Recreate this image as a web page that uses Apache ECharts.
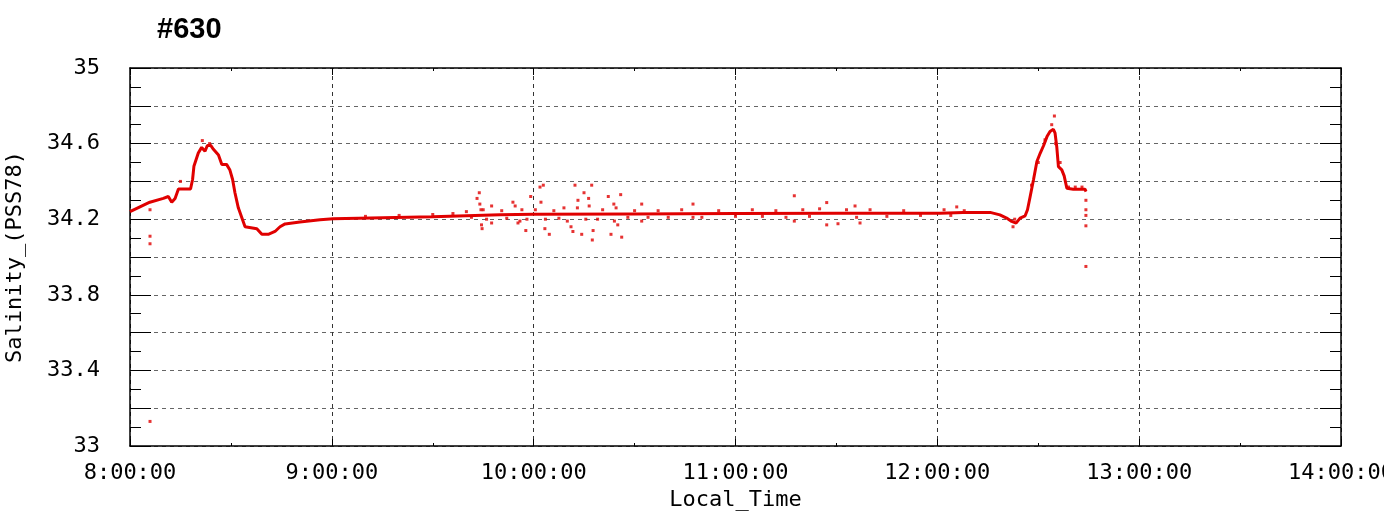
<!DOCTYPE html>
<html>
<head>
<meta charset="utf-8">
<script src="https://cdn.jsdelivr.net/npm/echarts@6/dist/echarts.min.js"></script>
<style>html,body{margin:0;padding:0;background:#fff}#c{width:1384px;height:513px}</style>
</head>
<body>
<div id="c"></div>
<script>
// ---- data ----
const chartTitle = '#630';
const xTickLabels = ['8:00:00','9:00:00','10:00:00','11:00:00','12:00:00','13:00:00','14:00:00'];
const yTickLabels = ['33','33.4','33.8','34.2','34.6','35'];

// main trace
const traceTimes = ['8:00:00','8:05:54','8:09:54','8:11:24','8:12:24','8:13:24','8:14:24','8:18:00','8:18:36','8:19:00',
  '8:20:18','8:21:18','8:22:18','8:23:00','8:24:00','8:24:48','8:26:18','8:27:18','8:28:42','8:29:42',
  '8:30:30','8:31:12','8:32:12','8:33:12','8:34:12','8:37:42','8:39:12','8:41:06','8:43:06','8:44:36',
  '8:46:06','8:50:30','8:56:30','9:00:24','9:30:00','9:50:00','10:00:00','10:30:00','11:00:00','11:30:00',
  '12:00:48','12:07:42','12:15:42','12:18:36','12:20:36','12:22:06','12:23:24','12:24:36','12:26:06','12:26:48',
  '12:27:36','12:28:36','12:29:36','12:30:36','12:31:36','12:32:36','12:33:30','12:34:30','12:35:00','12:35:30',
  '12:36:00','12:37:00','12:37:42','12:38:30','12:40:24','12:43:54','12:44:12'];
const traceSalinity = [34.24,34.29,34.31,34.32,34.29,34.31,34.36,34.36,34.41,34.48,
  34.55,34.58,34.56,34.59,34.59,34.57,34.54,34.49,34.49,34.46,
  34.41,34.34,34.26,34.21,34.16,34.15,34.12,34.12,34.135,34.16,
  34.175,34.185,34.197,34.202,34.213,34.223,34.226,34.228,34.23,34.232,
  34.232,34.236,34.236,34.223,34.206,34.188,34.179,34.206,34.218,34.25,
  34.32,34.41,34.505,34.55,34.59,34.637,34.664,34.676,34.655,34.584,
  34.478,34.461,34.429,34.364,34.359,34.359,34.346];

// scattered samples off the main trace
const dotTimes = ['8:05:57','8:05:57','8:05:57','8:05:57','8:15:00','8:21:30','8:23:40',
  '9:10:00','9:20:00','9:30:00','9:36:00',
  '9:40:00','9:41:30','9:43:10','9:43:50','9:44:00','9:44:20','9:44:30','9:44:40','9:45:00','9:46:00','9:47:30','9:47:30',
  '9:50:30','9:52:00','9:53:50','9:54:30','9:55:20','9:55:55','9:56:30','9:57:40','9:58:00','9:59:07',
  '10:00:30','10:01:53','10:02:10','10:02:52','10:03:30','10:03:20','10:04:39','10:06:00','10:07:30','10:09:00','10:10:00',
  '10:11:06','10:11:40','10:12:17','10:13:00','10:13:10','10:14:17','10:14:58','10:15:30','10:16:20','10:16:30','10:17:15','10:17:26','10:17:40','10:19:00',
  '10:20:30','10:22:11','10:22:59','10:23:50','10:24:00','10:24:30','10:25:00','10:25:52','10:26:10','10:28:00',
  '10:30:00','10:32:07','10:32:07','10:34:00','10:37:00','10:40:00','10:44:00','10:47:22','10:47:22','10:50:00','10:55:00',
  '11:00:00','11:05:00','11:08:00','11:12:00','11:15:00','11:17:29','11:17:29','11:20:00','11:22:00','11:25:00','11:27:07','11:27:07',
  '11:30:28','11:33:00','11:35:32','11:36:00','11:37:01','11:40:00','11:45:00','11:50:00','11:55:00',
  '12:02:00','12:04:00','12:05:46','12:08:00',
  '12:22:30','12:23:00','12:28:00','12:30:00','12:32:00','12:34:00','12:34:48','12:35:10','12:36:30','12:39:00','12:41:00','12:43:00',
  '12:44:10','12:44:10','12:44:10','12:44:10','12:44:10'];
const dotSalinity = [34.25,34.11,34.07,33.13,34.40,34.616,34.60,
  34.215,34.22,34.225,34.23,
  34.24,34.21,34.31,34.34,34.28,34.25,34.17,34.15,34.25,34.20,34.27,34.18,
  34.245,34.205,34.29,34.27,34.18,34.19,34.25,34.14,34.20,34.32,
  34.25,34.37,34.29,34.38,34.20,34.15,34.12,34.245,34.205,34.26,34.19,
  34.16,34.135,34.38,34.26,34.30,34.12,34.34,34.20,34.31,34.27,34.38,34.09,34.14,34.20,
  34.25,34.32,34.12,34.28,34.19,34.26,34.17,34.33,34.105,34.21,
  34.245,34.28,34.19,34.21,34.245,34.21,34.25,34.28,34.21,34.21,34.245,
  34.215,34.25,34.215,34.245,34.21,34.324,34.19,34.25,34.215,34.255,34.288,34.17,
  34.176,34.25,34.27,34.21,34.18,34.25,34.215,34.245,34.22,
  34.25,34.22,34.265,34.245,
  34.16,34.20,34.38,34.50,34.62,34.70,34.746,34.60,34.50,34.37,34.37,34.37,
  34.30,34.25,34.22,34.165,33.95];

// ---- helpers ----
function toSec(t){const p=t.split(':').map(Number);return p[0]*3600+p[1]*60+p[2];}
const traceData = traceTimes.map((t,i)=>[toSec(t), traceSalinity[i]]);
const dotData = dotTimes.map((t,i)=>[toSec(t), dotSalinity[i]]);

const mono = '"DejaVu Sans Mono", "Liberation Mono", monospace';
const red = '#e00000';

function xFmt(v){const h=Math.round(v/3600);const s=h+':00:00';return xTickLabels.indexOf(s)>=0?s:'';}
function yFmt(v){const s=String(Number(v.toFixed(1)));return yTickLabels.indexOf(s)>=0?s:'';}

const xBase = {
  type:'value', min:28800, max:50400, interval:3600,
  axisLine:{show:true, lineStyle:{color:'#000', width:1.5}},
  axisTick:{show:true, inside:true, length:7, lineStyle:{color:'#000', width:1}},
  minorTick:{show:true, splitNumber:2, length:3, lineStyle:{color:'#000', width:1}},
  splitLine:{show:false}
};
const yBase = {
  type:'value', min:33, max:35, interval:0.2,
  axisLine:{show:true, lineStyle:{color:'#000', width:1.5}},
  axisTick:{show:true, inside:true, length:21, lineStyle:{color:'#000', width:1}},
  minorTick:{show:true, splitNumber:2, length:11, lineStyle:{color:'#000', width:1}},
  splitLine:{show:false}
};

const chart = echarts.init(document.getElementById('c'), null, {renderer:'canvas'});
chart.setOption({
  animation:false,
  backgroundColor:'#fff',
  title:{text:chartTitle, left:152, top:10,
    textStyle:{fontFamily:'"Liberation Sans", Arial, sans-serif', fontWeight:'bold', fontSize:29, color:'#000'}},
  grid:{left:130, right:43, top:68, bottom:67, containLabel:false, outerBoundsMode:'none'},
  xAxis:[
    Object.assign({}, xBase, {position:'bottom',
      name:'Local_Time', nameLocation:'middle', nameGap:38,
      nameTextStyle:{fontFamily:mono, fontSize:22, color:'#000'},
      axisLabel:{show:true, margin:16, formatter:xFmt, fontFamily:mono, fontSize:22, color:'#000'},
      splitLine:{show:true, lineStyle:{color:'#333', type:[4,4], width:1}}}),
    Object.assign({}, xBase, {position:'top', axisLabel:{show:false}})
  ],
  yAxis:[
    Object.assign({}, yBase, {position:'left',
      name:'Salinity_(PSS78)', nameLocation:'middle', nameGap:104, nameRotate:90,
      nameTextStyle:{fontFamily:mono, fontSize:22, color:'#000'},
      axisLabel:{show:true, margin:30, formatter:yFmt, fontFamily:mono, fontSize:22, color:'#000'},
      splitLine:{show:true, lineStyle:{color:'#666', type:[4,4], width:1}}}),
    Object.assign({}, yBase, {position:'right', axisLabel:{show:false}})
  ],
  series:[
    {type:'line', data:traceData, xAxisIndex:0, yAxisIndex:0, showSymbol:false, symbol:'none',
     lineStyle:{color:red, width:3}, z:3},
    {type:'scatter', data:dotData, xAxisIndex:0, yAxisIndex:0, symbol:'rect', symbolSize:3,
     itemStyle:{color:red}, z:4}
  ]
});
</script>
</body>
</html>
